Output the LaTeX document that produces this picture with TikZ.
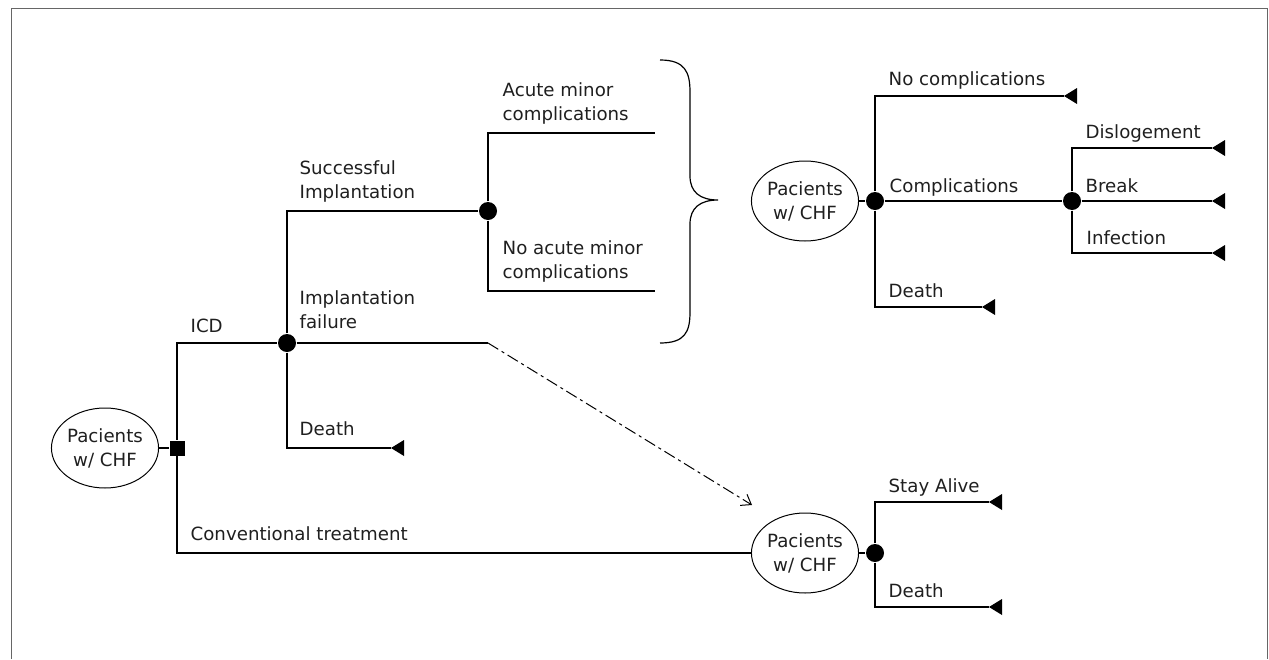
\documentclass[tikz,border=0pt]{standalone}
\usepackage{fontspec}
\setmainfont{DejaVu Sans}
\usetikzlibrary{shapes.geometric,arrows.meta}
\begin{document}
\begin{tikzpicture}[x=1pt,y=-1pt,
  line width=1.3pt,
  every node/.style={font=\fontsize{18.2}{24}\selectfont, text=black!88},
  lbl/.style={anchor=base west, inner sep=0pt, align=left},
  pat/.style={ellipse, draw, line width=1pt, minimum width=105pt, minimum height=80pt, inner sep=0pt, align=center},
  chance/.style={circle, fill=black, inner sep=0pt, minimum size=18pt},
  decision/.style={rectangle, fill=black, inner sep=0pt, minimum size=15pt},
  tipmark/.style={fill=black},
  frame/.style={draw=black!60, line width=1pt}
]
\useasboundingbox (0,0) rectangle (1269,659);
\draw[frame] (11,659) -- (11,8) -- (1267,8) -- (1267,659);

% left part
\node[pat] (e1) at (105,448) {Pacients\\w/ CHF};
\node[decision] (sq) at (177,448) {};
\node[chance] (c1) at (287,343) {};
\node[chance] (c2) at (488,211) {};
\coordinate (fail) at (488,343);
\coordinate (acute) at (655,133);
\coordinate (noacute) at (655,291);
\coordinate (tD1) at (391,448);

\draw (e1) -- (sq);
\draw (sq) |- (c1);
\draw (c1) -- (fail);
\draw (c1) |- (c2);
\draw (c1) |- (tD1);
\fill[tipmark] (tD1) -- ++(13,-8) -- ++(0,16) -- cycle;
\draw (c2) |- (acute);
\draw (c2) |- (noacute);

\node[pat] (e3) at (805,553) {Pacients\\w/ CHF};
\draw (sq) |- (e3);

\coordinate (arrEnd) at (752,505);
\draw[line width=1pt, dash pattern=on 12pt off 4pt on 3pt off 4pt, -{Straight Barb[length=9pt,width=13pt]}] (fail) -- (arrEnd);

% brace
\draw[line width=1.2pt] (660,60) .. controls (685,60) and (690,72) .. (690,92)
  -- (690,176) .. controls (690,192) and (700,200) .. (718,200)
  .. controls (700,200) and (690,208) .. (690,224)
  -- (690,312) .. controls (690,332) and (685,343) .. (660,343);

% labels left
\node[lbl] at (190,332) {ICD};
\node[lbl] at (299,198.5) {Successful\\Implantation};
\node[lbl] at (502,120.5) {Acute minor\\complications};
\node[lbl] at (502,278.5) {No acute minor\\complications};
\node[lbl] at (299,328.5) {Implantation\\failure};
\node[lbl] at (299,435) {Death};
\node[lbl] at (190,540) {Conventional treatment};

% top right
\node[pat] (e2) at (805,201) {Pacients\\w/ CHF};
\node[chance] (c4) at (875,201) {};
\node[chance] (c5) at (1072,201) {};
\coordinate (tNo) at (1064,96);
\coordinate (tD2) at (982,307);
\coordinate (tDis) at (1212,148);
\coordinate (tBr) at (1212,201);
\coordinate (tInf) at (1212,253);
\draw (e2) -- (c4);
\draw (c4) |- (tNo);
\draw (c4) -- (c5);
\draw (c4) |- (tD2);
\draw (c5) |- (tDis);
\draw (c5) -- (tBr);
\draw (c5) |- (tInf);
\foreach \t in {tNo,tD2,tDis,tBr,tInf}
  \fill[tipmark] (\t) -- ++(13,-8) -- ++(0,16) -- cycle;
\node[lbl] at (888,85) {No complications};
\node[lbl] at (889,192) {Complications};
\node[lbl] at (888,297) {Death};
\node[lbl] at (1085,138) {Dislogement};
\node[lbl] at (1085,192) {Break};
\node[lbl] at (1086,244) {Infection};

% bottom right
\node[chance] (c6) at (875,553) {};
\coordinate (tSA) at (989,502);
\coordinate (tD3) at (989,607);
\draw (e3) -- (c6);
\draw (c6) |- (tSA);
\draw (c6) |- (tD3);
\foreach \t in {tSA,tD3}
  \fill[tipmark] (\t) -- ++(13,-8) -- ++(0,16) -- cycle;
\node[lbl] at (888,492) {Stay Alive};
\node[lbl] at (888,597) {Death};
\end{tikzpicture}
\end{document}
